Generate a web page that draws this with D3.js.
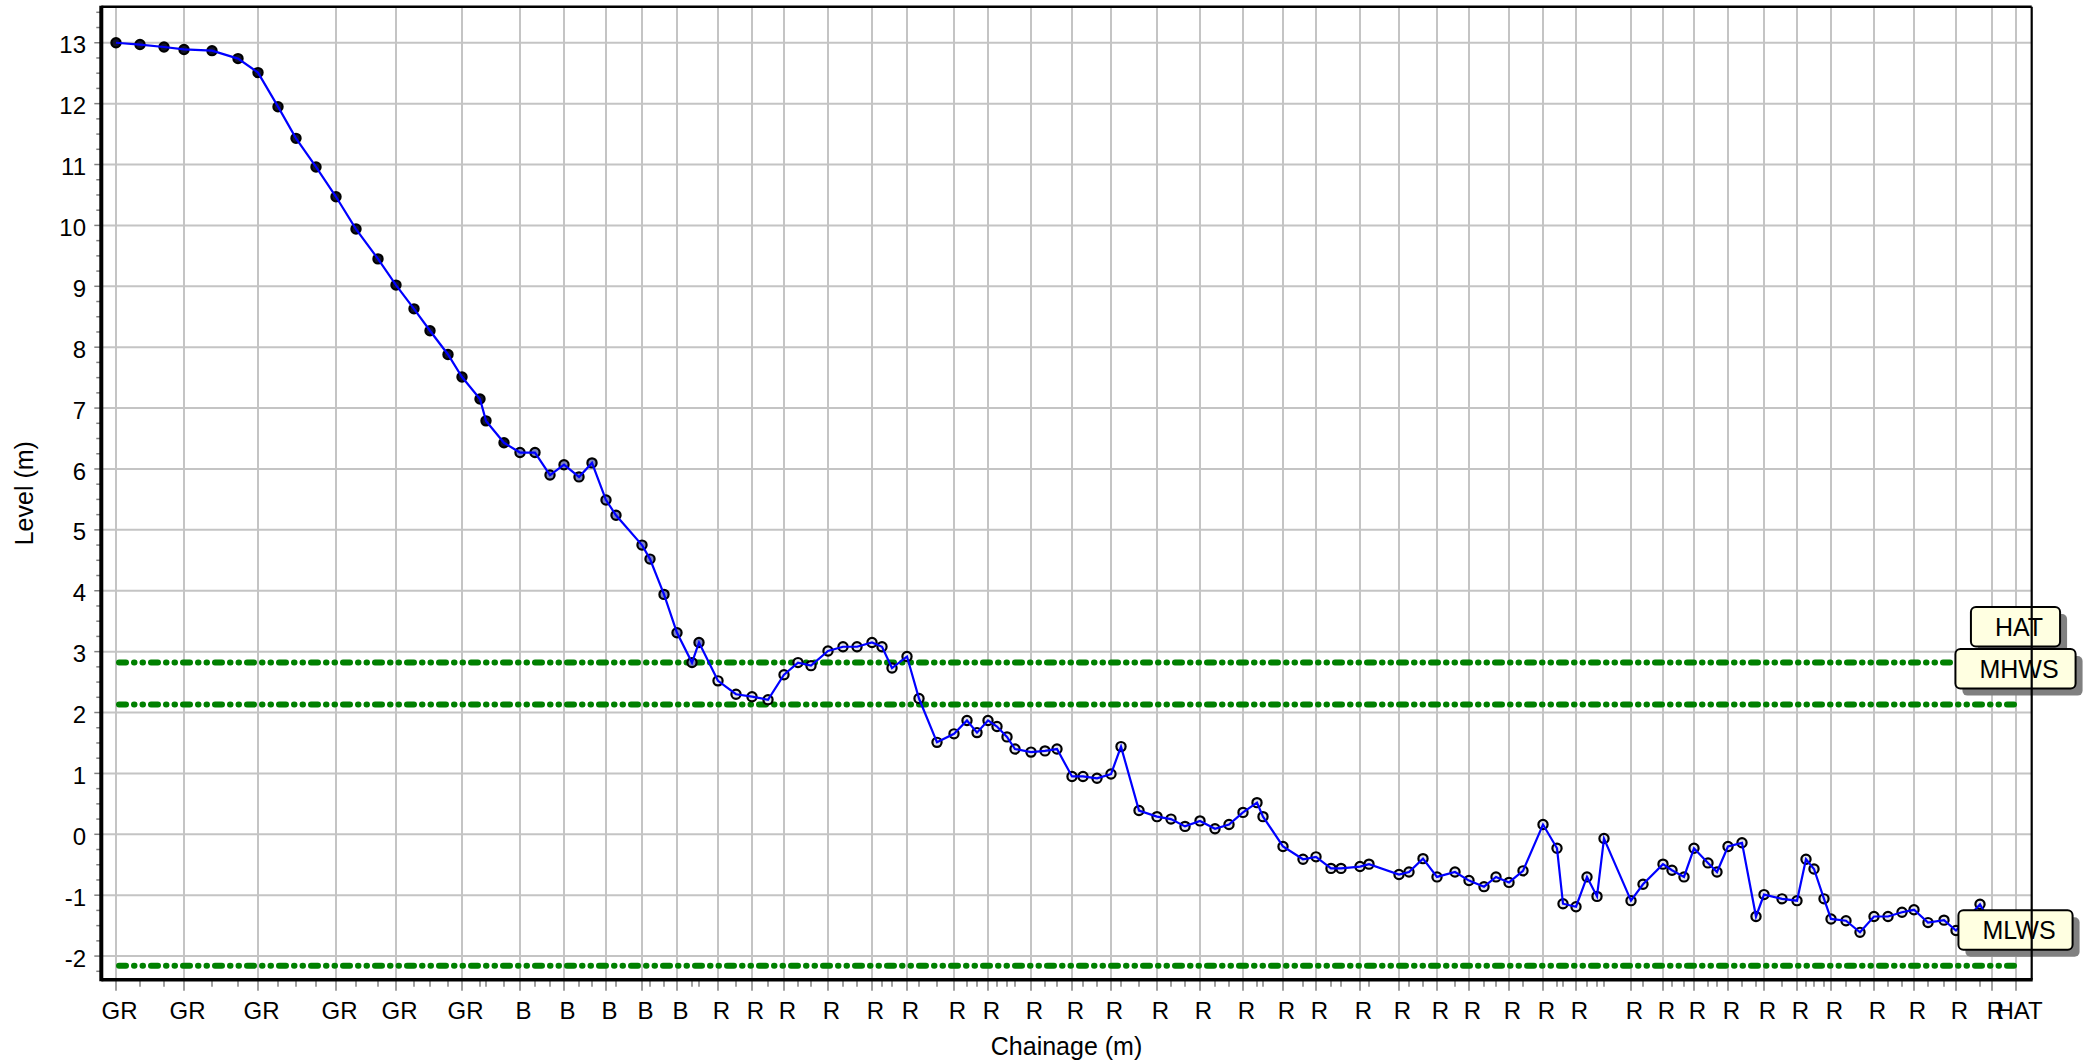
<!DOCTYPE html>
<html><head><meta charset="utf-8">
<script src="https://cdn.jsdelivr.net/npm/d3@7"></script>
<style>
html,body{margin:0;padding:0;background:#fff;}
svg{display:block;font-family:"Liberation Sans",Arial,Helvetica,sans-serif;}
</style></head><body>
<svg id="chart" width="2087" height="1061"></svg>
<script>
// ---- data ----
const chainage = [0.0,2.4,4.8,6.8,9.6,12.2,14.2,16.2,18.0,20.0,22.0,24.0,26.2,28.0,29.8,31.4,33.2,34.6,36.4,37.0,
  38.8,40.4,41.9,43.4,44.8,46.3,47.6,49.0,50.0,52.6,53.4,54.8,56.1,57.6,58.3,60.2,62.0,63.6,65.2,66.8,
  68.2,69.5,71.2,72.7,74.1,75.6,76.6,77.6,79.1,80.3,82.1,83.8,85.1,86.1,87.2,88.1,89.1,89.9,91.5,92.9,
  94.1,95.6,96.7,98.1,99.5,100.5,102.3,104.1,105.5,106.9,108.4,109.9,111.3,112.7,114.1,114.7,116.7,118.7,120.0,121.5,
  122.5,124.4,125.3,128.3,129.3,130.7,132.1,133.9,135.3,136.8,138.0,139.3,140.7,142.7,144.1,144.7,146.0,147.1,148.1,148.8,
  151.5,152.7,154.7,155.6,156.8,157.8,159.2,160.1,161.2,162.6,164.0,164.8,166.6,168.1,169.0,169.8,170.8,171.5,173.0,174.4,
  175.8,177.2,178.6,179.8,181.2,182.8,184.0,186.4,187.6];
const level = [13.00,12.97,12.93,12.89,12.87,12.74,12.51,11.95,11.43,10.96,10.47,9.94,9.45,9.02,8.63,8.27,7.88,7.51,7.15,6.79,
  6.43,6.27,6.27,5.90,6.07,5.87,6.10,5.49,5.24,4.75,4.52,3.94,3.31,2.82,3.15,2.52,2.30,2.26,2.21,2.62,
  2.82,2.77,3.01,3.08,3.08,3.15,3.08,2.73,2.92,2.23,1.51,1.65,1.87,1.67,1.87,1.77,1.60,1.40,1.35,1.37,
  1.40,0.95,0.95,0.92,0.99,1.44,0.39,0.29,0.25,0.13,0.22,0.09,0.16,0.36,0.52,0.29,-0.20,-0.41,-0.37,-0.56,
  -0.56,-0.53,-0.49,-0.66,-0.62,-0.40,-0.70,-0.62,-0.76,-0.86,-0.70,-0.79,-0.60,0.16,-0.23,-1.14,-1.19,-0.70,-1.02,-0.07,
  -1.09,-0.82,-0.49,-0.59,-0.70,-0.23,-0.47,-0.62,-0.20,-0.14,-1.35,-0.99,-1.06,-1.09,-0.41,-0.57,-1.06,-1.39,-1.42,-1.61,
  -1.35,-1.35,-1.28,-1.24,-1.45,-1.41,-1.58,-1.15,-1.50];
const code = ['GR','','','GR','','','GR','','','','GR','','','GR','','','','GR','','',
  '','B','','','B','','','B','','B','','','B','','','R','','R','','R',
  '','','R','','','R','','','R','','','R','','','R','','','','R','',
  '','R','','','R','','','R','','','R','','','R','','','R','','R','',
  '','R','','R','','','R','','R','','','R','','R','','','R','','','',
  'R','','R','','','R','','','R','','','R','','R','','','','R','','',
  'R','','','R','','','R','','R'];
const tideNames = ['HAT','MHWS','MLWS'];
const tideLevels = [2.82, 2.13, -2.16];
const tideChainage = 190.0;
const yTickValues = d3.range(-2, 14);
const xTitle = 'Chainage (m)';
const yTitle = 'Level (m)';

// ---- layout ----
const svg = d3.select('#chart');
const L = 101.3, R = 2031.7, T = 6.7, B = 979.7;
const x = d3.scaleLinear().domain([-1.47, 191.57]).range([L, R]);
const y = d3.scaleLinear().domain([-2.388, 13.592]).range([B, T]);

const pts = chainage.map((c, i) => ({c, v: level[i], code: code[i], i}));
const labeled = pts.filter(p => p.code !== '');
const majorTicks = labeled.map(p => ({c: p.c, t: p.code})).concat([{c: tideChainage, t: 'HAT'}]);
const minorTicks = pts.filter(p => p.code === '').map(p => p.c);

// grid
const grid = svg.append('g');
grid.selectAll('line.h').data(yTickValues).join('line')
  .attr('x1', L).attr('x2', R).attr('y1', d => y(d)).attr('y2', d => y(d))
  .attr('stroke', '#c4c4c4').attr('stroke-width', 2);
grid.selectAll('line.v').data(majorTicks).join('line')
  .attr('x1', d => x(d.c)).attr('x2', d => x(d.c)).attr('y1', T).attr('y2', B)
  .attr('stroke', '#c4c4c4').attr('stroke-width', 2);

// tide lines
svg.append('g').selectAll('line').data(tideLevels).join('line')
  .attr('x1', x(chainage[0]) + 3).attr('x2', x(tideChainage))
  .attr('y1', d => y(d)).attr('y2', d => y(d))
  .attr('stroke', '#008000').attr('stroke-width', 6).attr('stroke-linecap', 'round')
  .attr('stroke-dasharray', '7 8 0.5 8 0.5 8');

// markers: fill by surveyed code segment
let cur = 'GR';
const segFill = {GR: '#14142c', B: '#7d84c2', R: '#e4e4ec'};
pts.forEach(p => { if (p.code) cur = p.code; p.seg = cur; });
svg.append('g').selectAll('circle').data(pts).join('circle')
  .attr('cx', d => x(d.c)).attr('cy', d => y(d.v)).attr('r', 4.6)
  .attr('fill', d => segFill[d.seg]).attr('stroke', '#000').attr('stroke-width', 2.2);

// profile line (on top of markers)
svg.append('path').datum(pts)
  .attr('d', d3.line().x(d => x(d.c)).y(d => y(d.v)))
  .attr('fill', 'none').attr('stroke', '#0000ff').attr('stroke-width', 2.2);

// tide labels
const lab = svg.append('g');
tideNames.forEach((name, i) => {
  const cy = y(tideLevels[i]) - 36;
  const g = lab.append('g');
  const shadow = g.append('rect');
  const box = g.append('rect');
  const txt = g.append('text').attr('x', x(tideChainage) + 3).attr('y', cy + 9)
    .attr('text-anchor', 'middle').attr('font-size', 25).attr('fill', '#000').text(name);
  const bb = txt.node().getBBox();
  const bx = bb.x - 24, bw = bb.width + 41, by = cy - 19.5, bh = 39.5;
  shadow.attr('x', bx + 7).attr('y', by + 7).attr('width', bw).attr('height', bh)
    .attr('rx', 5).attr('fill', '#808080');
  box.attr('x', bx).attr('y', by).attr('width', bw).attr('height', bh)
    .attr('rx', 5).attr('fill', '#ffffe1').attr('stroke', '#000').attr('stroke-width', 2);
});

// y ticks
const yMinor = d3.range(-9, 55).map(i => i / 4).filter(v => v % 1 !== 0);
svg.append('g').selectAll('line').data(yMinor).join('line')
  .attr('x1', L - 5).attr('x2', L).attr('y1', d => y(d)).attr('y2', d => y(d))
  .attr('stroke', '#808080').attr('stroke-width', 1.5);
svg.append('g').selectAll('line').data(yTickValues).join('line')
  .attr('x1', L - 7).attr('x2', L).attr('y1', d => y(d)).attr('y2', d => y(d))
  .attr('stroke', '#808080').attr('stroke-width', 1.5);
svg.append('g').selectAll('text').data(yTickValues).join('text')
  .attr('x', 86).attr('y', d => y(d)).attr('dy', '0.44em')
  .attr('text-anchor', 'end').attr('font-size', 24).attr('fill', '#000').text(d => d);

// x ticks
svg.append('g').selectAll('line').data(minorTicks).join('line')
  .attr('x1', d => x(d)).attr('x2', d => x(d)).attr('y1', B).attr('y2', B + 7)
  .attr('stroke', '#808080').attr('stroke-width', 1.5);
svg.append('g').selectAll('line').data(majorTicks).join('line')
  .attr('x1', d => x(d.c)).attr('x2', d => x(d.c)).attr('y1', B).attr('y2', B + 11)
  .attr('stroke', '#808080').attr('stroke-width', 1.5);
svg.append('g').selectAll('text').data(majorTicks).join('text')
  .attr('x', d => x(d.c) + 3.5).attr('y', 1019)
  .attr('text-anchor', 'middle').attr('font-size', 24).attr('fill', '#000').text(d => d.t);

// frame / axes
svg.append('line').attr('x1', L).attr('x2', R).attr('y1', T).attr('y2', T)
  .attr('stroke', '#000').attr('stroke-width', 2.5);
svg.append('line').attr('x1', R).attr('x2', R).attr('y1', T).attr('y2', B)
  .attr('stroke', '#000').attr('stroke-width', 2.2);
svg.append('line').attr('x1', L).attr('x2', R + 1).attr('y1', B).attr('y2', B)
  .attr('stroke', '#000').attr('stroke-width', 3.5);
svg.append('line').attr('x1', L).attr('x2', L).attr('y1', T - 1).attr('y2', B + 1.5)
  .attr('stroke', '#000').attr('stroke-width', 4);

// titles
svg.append('text').attr('x', (L + R) / 2).attr('y', 1055).attr('text-anchor', 'middle')
  .attr('font-size', 25).attr('fill', '#000').text(xTitle);
svg.append('text').attr('transform', `translate(33,${(T + B) / 2}) rotate(-90)`)
  .attr('text-anchor', 'middle').attr('font-size', 25).attr('fill', '#000').text(yTitle);
</script>
</body></html>
